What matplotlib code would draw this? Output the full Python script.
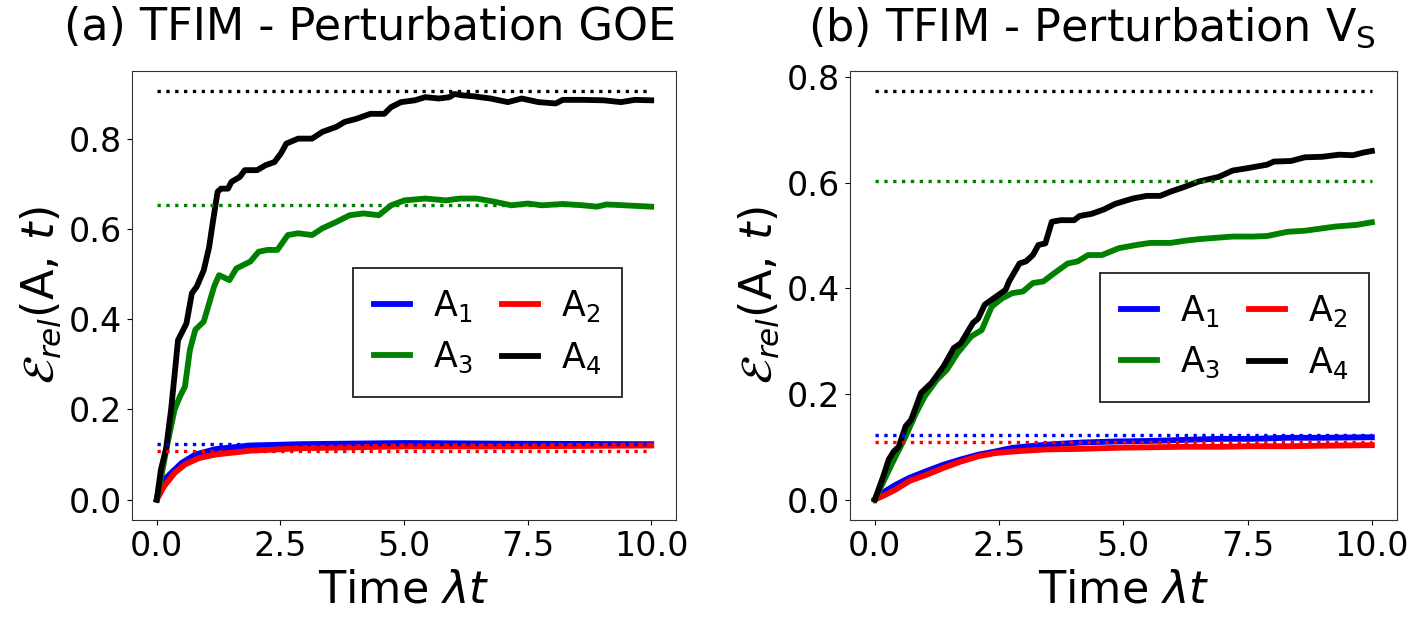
import numpy as np
import matplotlib
matplotlib.use("Agg")
import matplotlib.pyplot as plt

# ---------------- data: panel (a) TFIM - Perturbation GOE ----------------
a_A4_t = [0, 0.083, 0.19, 0.29, 0.35, 0.43, 0.5, 0.6, 0.71, 0.81, 0.95, 1.06, 1.13, 1.23, 1.3, 1.44, 1.51,
          1.68, 1.78, 2.03, 2.2, 2.38, 2.51, 2.62, 2.86, 3.14, 3.35, 3.63, 3.8, 4.04, 4.32, 4.6, 4.74,
          4.94, 5.22, 5.43, 5.71, 5.92, 6.02, 6.19, 6.4, 6.75, 7.1, 7.38, 7.72, 8.07, 8.21, 8.62, 9.04,
          9.39, 9.67, 10.0]
a_A4_v = [0, 0.066, 0.114, 0.2, 0.266, 0.354, 0.369, 0.391, 0.458, 0.473, 0.509, 0.561, 0.613, 0.683, 0.69,
          0.69, 0.705, 0.716, 0.731, 0.731, 0.742, 0.749, 0.768, 0.79, 0.801, 0.801, 0.816, 0.827, 0.838,
          0.845, 0.856, 0.856, 0.871, 0.882, 0.886, 0.893, 0.89, 0.893, 0.9, 0.897, 0.895, 0.89, 0.882,
          0.89, 0.882, 0.879, 0.887, 0.887, 0.886, 0.882, 0.887, 0.886]
a_A3_t = [0, 0.22, 0.36, 0.47, 0.57, 0.67, 0.78, 0.95, 1.06, 1.16, 1.26, 1.47, 1.61, 1.89, 2.06, 2.24, 2.44,
          2.65, 2.86, 3.14, 3.35, 3.63, 3.9, 4.18, 4.49, 4.74, 5.01, 5.43, 5.85, 6.13, 6.47, 6.83, 7.17,
          7.51, 7.79, 8.21, 8.62, 8.9, 9.1, 9.46, 10.0]
a_A3_v = [0, 0.126, 0.2, 0.229, 0.251, 0.332, 0.377, 0.395, 0.436, 0.473, 0.498, 0.487, 0.513, 0.528, 0.55,
          0.554, 0.554, 0.587, 0.591, 0.587, 0.602, 0.616, 0.631, 0.635, 0.631, 0.653, 0.664, 0.668, 0.664,
          0.668, 0.668, 0.661, 0.653, 0.657, 0.653, 0.656, 0.653, 0.65, 0.655, 0.653, 0.65]
a_A1_t = [0, 0.15, 0.29, 0.5, 0.78, 1.19, 1.89, 2.93, 5.01, 7.1, 10.0]
a_A1_v = [0, 0.044, 0.059, 0.081, 0.1, 0.112, 0.12, 0.123, 0.1255, 0.124, 0.123]
a_A2_t = [0, 0.15, 0.36, 0.57, 0.85, 1.19, 1.89, 2.93, 5.01, 7.1, 10.0]
a_A2_v = [0, 0.03, 0.059, 0.078, 0.092, 0.1, 0.1085, 0.114, 0.118, 0.118, 0.12]
a_limits = [0.123, 0.1085, 0.653, 0.906]   # A1, A2, A3, A4 dotted levels

# ---------------- data: panel (b) TFIM - Perturbation V_S ----------------
b_A4_t = [0, 0.17, 0.28, 0.38, 0.48, 0.62, 0.73, 0.93, 1.14, 1.38, 1.59, 1.73, 1.97, 2.08, 2.21, 2.39, 2.63,
          2.7, 2.91, 3.04, 3.18, 3.29, 3.43, 3.56, 3.74, 4.01, 4.12, 4.36, 4.6, 4.84, 5.19, 5.47, 5.74,
          5.95, 6.23, 6.51, 6.92, 7.2, 7.47, 7.89, 8.03, 8.37, 8.65, 9.0, 9.34, 9.62, 9.83, 10.0]
b_A4_v = [0, 0.044, 0.076, 0.091, 0.1, 0.139, 0.151, 0.202, 0.221, 0.252, 0.287, 0.296, 0.334, 0.343, 0.369,
          0.381, 0.397, 0.413, 0.447, 0.451, 0.463, 0.482, 0.485, 0.526, 0.529, 0.529, 0.537, 0.541, 0.549,
          0.56, 0.57, 0.575, 0.575, 0.583, 0.592, 0.602, 0.611, 0.623, 0.627, 0.634, 0.64, 0.641, 0.648,
          0.649, 0.653, 0.652, 0.657, 0.66]
b_A3_t = [0, 0.35, 0.62, 0.83, 1.0, 1.25, 1.45, 1.66, 1.94, 2.15, 2.35, 2.56, 2.77, 2.98, 3.18, 3.39, 3.6,
          3.88, 4.08, 4.29, 4.57, 4.91, 5.26, 5.54, 5.95, 6.23, 6.51, 6.78, 7.2, 7.61, 7.89, 8.3, 8.65,
          9.27, 9.69, 10.0]
b_A3_v = [0, 0.069, 0.12, 0.164, 0.195, 0.227, 0.246, 0.277, 0.309, 0.321, 0.365, 0.381, 0.391, 0.394, 0.41,
          0.413, 0.428, 0.447, 0.451, 0.463, 0.463, 0.476, 0.482, 0.486, 0.486, 0.49, 0.493, 0.495, 0.498,
          0.498, 0.499, 0.507, 0.509, 0.517, 0.52, 0.525]
b_A1_t = [0, 0.21, 0.42, 0.69, 1.04, 1.38, 1.73, 2.08, 2.42, 2.77, 3.46, 4.15, 4.84, 5.54, 6.23, 6.92, 7.61,
          8.3, 9.0, 10.0]
b_A1_v = [0, 0.016, 0.028, 0.041, 0.054, 0.066, 0.076, 0.085, 0.091, 0.098, 0.104, 0.108, 0.11, 0.111, 0.113,
          0.115, 0.115, 0.117, 0.117, 0.118]
b_A2_t = [0, 0.21, 0.42, 0.69, 1.04, 1.38, 1.73, 2.08, 2.42, 2.77, 3.46, 4.15, 4.84, 5.54, 6.23, 6.92, 7.61,
          8.3, 9.0, 10.0]
b_A2_v = [0, 0.009, 0.019, 0.035, 0.047, 0.06, 0.072, 0.082, 0.088, 0.091, 0.095, 0.096, 0.098, 0.099, 0.1,
          0.1, 0.101, 0.101, 0.102, 0.103]
b_limits = [0.123, 0.109, 0.604, 0.773]

labels = ["A$_1$", "A$_2$", "A$_3$", "A$_4$"]
colors = ["blue", "red", "green", "black"]
titles = ["(a) TFIM - Perturbation GOE", "(b) TFIM - Perturbation V$_\\mathrm{S}$"]
t_range = [0, 10]

panels = [
    (a_A1_t, a_A1_v, a_A2_t, a_A2_v, a_A3_t, a_A3_v, a_A4_t, a_A4_v, a_limits),
    (b_A1_t, b_A1_v, b_A2_t, b_A2_v, b_A3_t, b_A3_v, b_A4_t, b_A4_v, b_limits),
]

fig = plt.figure(figsize=(14.2, 6.29), dpi=100)
axes = [fig.add_axes([0.093, 0.1733, 0.383, 0.714]),
        fig.add_axes([0.5986, 0.1733, 0.385, 0.714])]
title_x = [0.4375, 0.443]
leg_center = [(0.653, 0.418), (0.703, 0.407)]

for k, ax in enumerate(axes):
    p = panels[k]
    handles = []
    for i in range(4):
        h, = ax.plot(p[2 * i], p[2 * i + 1], color=colors[i], lw=4.2, label=labels[i])
        handles.append(h)
    for i in range(4):
        ax.plot(t_range, [p[8][i], p[8][i]], color=colors[i], ls=":", lw=2.4)
    ax.set_xticks([0, 2.5, 5, 7.5, 10])
    ax.set_yticks([0, 0.2, 0.4, 0.6, 0.8])
    ax.tick_params(labelsize=24)
    ax.set_xlabel(r"Time $\lambda t$", fontsize=32)
    ax.set_ylabel(r"$\mathcal{E}_{rel}(\mathrm{A},\, t)$", fontsize=32)
    ax.set_title(titles[k], fontsize=32, x=title_x[k], pad=22)
    order = [0, 2, 1, 3]
    leg = ax.legend([handles[j] for j in order], [labels[j] for j in order], ncol=2,
                    loc="center", bbox_to_anchor=leg_center[k], fontsize=25,
                    handlelength=1.05, handletextpad=0.65, columnspacing=0.85,
                    borderpad=0.6, labelspacing=0.45, fancybox=False,
                    edgecolor="#222222", framealpha=1)
    leg.get_frame().set_linewidth(1.3)
    for spine in ax.spines.values():
        spine.set_color("#333333")

fig.savefig("out.png", dpi=100)
